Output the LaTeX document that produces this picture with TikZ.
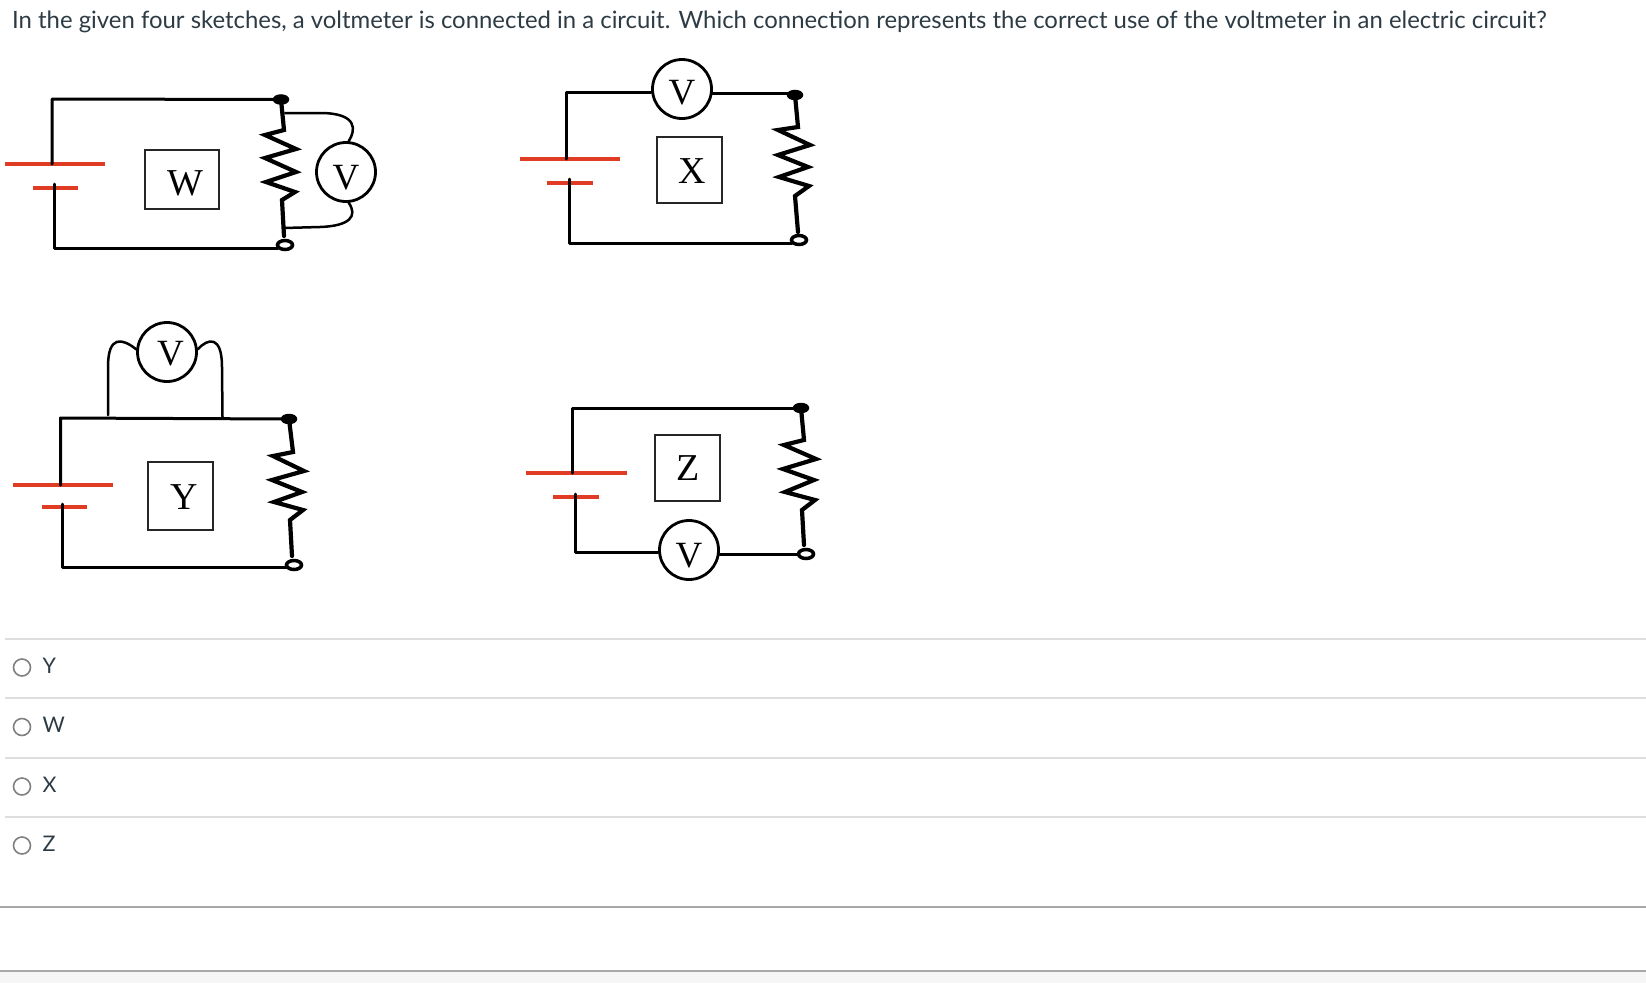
\documentclass[tikz,border=0pt]{standalone}
\usepackage{fontspec}
\setmainfont{Lato}
\newfontfamily\circfont{Liberation Serif}
\usetikzlibrary{shapes.geometric}
\definecolor{inktext}{HTML}{2D3B45}
\definecolor{redplate}{HTML}{E03C23}
\definecolor{rulelight}{HTML}{DEDEDE}
\definecolor{ruledark}{HTML}{A8A8A8}
\definecolor{footfill}{HTML}{F5F5F5}
\definecolor{radiogray}{HTML}{808080}
\tikzset{
  wire/.style={line width=3pt,black,line cap=round,line join=round},
  leadw/.style={line width=2.5pt,black,line cap=round,line join=round},
  resist/.style={line width=4.2pt,black,line join=miter,line cap=round},
  plate/.style={line width=4.6pt,redplate},
  meter/.style={circle,draw=black,fill=white,line width=2.8pt,minimum size=59pt,inner sep=0pt,font=\circfont\fontsize{37}{37}\selectfont},
  sbox/.style={rectangle,draw=black!85,line width=1.6pt,inner sep=0pt},
  sboxlabel/.style={inner sep=0pt,font=\circfont\fontsize{38}{38}\selectfont},
  termtop/.style={ellipse,draw=black,fill=black,line width=1.5pt,minimum width=15pt,minimum height=9pt,inner sep=0pt},
  termbot/.style={ellipse,draw=black,fill=white,line width=3.5pt,minimum width=15pt,minimum height=9pt,inner sep=0pt},
  qtext/.style={anchor=base west,inner sep=0pt,text=inktext,font=\fontsize{23.9}{23.9}\selectfont},
  opttext/.style={anchor=base west,inner sep=0pt,text=inktext,font=\fontsize{21.5}{21.5}\selectfont},
  radio/.style={circle,draw=radiogray,line width=1.6pt,minimum size=17pt,inner sep=0pt},
  lightrule/.style={draw=rulelight,line width=1.2pt},
  darkrule/.style={draw=ruledark,line width=1.2pt}
}
\begin{document}
\begin{tikzpicture}[x=1pt,y=-1pt]
\useasboundingbox (0,0) rectangle (1646,983);
\fill[footfill] (0,971) rectangle (1646,983);
\node[qtext] (question) at (12,28) {In the given four sketches, a voltmeter is connected in a circuit. Which connection represents the correct use of the voltmeter in an electric circuit?};

% ---- W ----
\coordinate (wLT) at (52,99); \coordinate (wLB) at (54,248);
\coordinate (wP1) at (52,164); \coordinate (wP2) at (54,184);
\node[termtop] (wT) at (281,99.5) {};
\node[termbot] (wB) at (285,245) {};
\node[meter,text height=34pt,text depth=0pt] (wV) at (346,172) {V};
\node[sbox,minimum width=74pt,minimum height=59pt] (wBox) at (182,179.5) {};
\node[sboxlabel] (wLabel) at (185,183) {W};
\draw[plate] (5,164) -- (105,164);
\draw[plate] (33,188) -- (78,188);
\draw[wire] (wP1) -- (wLT) -- (wT);
\draw[wire] (wP2) -- (wLB) -- (wLB -| wB.-150);
\draw[resist] (wT) -- (284,130) -- (265,135) -- (296,149) -- (265,158) -- (296,172) -- (266,182) -- (295,192) -- (282,200) -- (284,236);
\coordinate (wTap1) at (285,113); \coordinate (wTap2) at (284,228);
\draw[leadw] (wTap1) -- (320,113) .. controls (358,113) and (356,130) .. (wV.85);
\draw[leadw] (wTap2) -- (320,227) .. controls (350,226) and (358,216) .. (wV.-85);

% ---- X ----
\coordinate (xLT) at (566,92); \coordinate (xLB) at (569,243);
\coordinate (xP1) at (566,159); \coordinate (xP2) at (569,179);
\node[termtop] (xT) at (795,95) {};
\node[termbot] (xB) at (799,240) {};
\node[meter,text height=31pt,text depth=0pt] (xV) at (682,89) {V};
\node[sbox,minimum width=65pt,minimum height=66pt] (xBox) at (689.5,170) {};
\node[sboxlabel] (xLabel) at (692,171) {X};
\draw[plate] (520,159) -- (620,159);
\draw[plate] (547,183) -- (593,183);
\draw[wire] (xP1) -- (xLT) -- (xLT -| xV.-175);
\draw[wire] (xV.-8) -- (xV.-8 -| xT);
\draw[wire] (xP2) -- (xLB) -- (xLB -| xB.-150);
\draw[resist] (xT) -- (798,127) -- (778,130) -- (810,145) -- (778,155) -- (808,167) -- (779,177) -- (809,186) -- (795,196) -- (798,232);

% ---- Y ----
\coordinate (yLT) at (60.5,418); \coordinate (yLB) at (62,567);
\coordinate (yP1) at (60.5,485); \coordinate (yP2) at (62,504);
\node[termtop] (yT) at (289,419) {};
\node[termbot] (yB) at (294,565) {};
\node[meter,text height=27pt,text depth=0pt] (yV) at (167,352) {\hspace*{7pt}V};
\node[sbox,minimum width=65pt,minimum height=68pt] (yBox) at (180.5,496) {};
\node[sboxlabel] (yLabel) at (184,497) {Y};
\coordinate (yTap1) at (108,415); \coordinate (yTap2) at (222.5,417);
\draw[plate] (13,485) -- (113,485);
\draw[plate] (42,507) -- (87,507);
\draw[wire] (yP1) -- (yLT) -- (yT);
\draw[wire] (yP2) -- (yLB) -- (yLB -| yB.-150);
\draw[resist] (yT) -- (293,452) -- (273,456) -- (304,471) -- (272,480) -- (302,492) -- (274,502) -- (303,510) -- (290,520) -- (292,556);
\draw[leadw] (yTap1) -- (108,367) .. controls (108,335) and (122,338) .. (yV.175);
\draw[leadw] (yTap2) -- (222,367) .. controls (222,335) and (208,338) .. (yV.5);

% ---- Z ----
\coordinate (zLT) at (572,408); \coordinate (zLB) at (575,552);
\coordinate (zP1) at (572,473); \coordinate (zP2) at (575,494);
\node[termtop] (zT) at (801,408) {};
\node[termbot] (zB) at (806,554) {};
\node[meter,text height=35pt,text depth=0pt] (zV) at (689,550) {V};
\node[sbox,minimum width=65pt,minimum height=66pt] (zBox) at (687.5,468) {};
\node[sboxlabel] (zLabel) at (688,468) {Z};
\draw[plate] (526,473) -- (627,473);
\draw[plate] (553,497) -- (599,497);
\draw[wire] (zP1) -- (zLT) -- (zT);
\draw[wire] (zP2) -- (zLB) -- (zLB -| zV.-176);
\draw[wire] (zV.-8) -- (zV.-8 -| zB.west);
\draw[resist] (zT) -- (804,440) -- (784,445) -- (816,459) -- (783,469) -- (814,480) -- (785,492) -- (815,500) -- (802,510) -- (804,545);

% ---- options ----
\draw[lightrule] (5,639) -- (1646,639);
\draw[lightrule] (5,698) -- (1646,698);
\draw[lightrule] (5,758) -- (1646,758);
\draw[lightrule] (5,817) -- (1646,817);
\draw[darkrule] (0,907) -- (1646,907);
\draw[darkrule] (0,971) -- (1646,971);
\node[radio] (rY) at (22,667.5) {};
\node[radio] (rW) at (22,727) {};
\node[radio] (rX) at (22,786.5) {};
\node[radio] (rZ) at (22,845.5) {};
\node[opttext] (oY) at (42.5,673) {Y};
\node[opttext] (oW) at (42.5,732.5) {W};
\node[opttext] (oX) at (42.5,792) {X};
\node[opttext] (oZ) at (42.5,851.5) {Z};
\end{tikzpicture}
\end{document}
